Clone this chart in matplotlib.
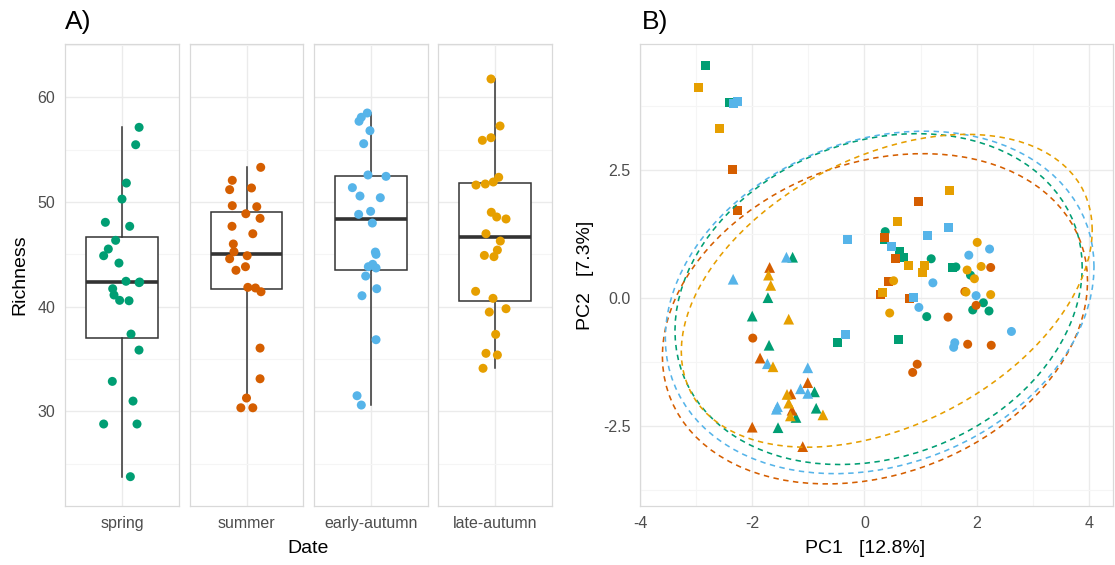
import numpy as np
import matplotlib
matplotlib.use("Agg")
import matplotlib.pyplot as plt

plt.rcParams["font.family"] = ["Liberation Sans", "DejaVu Sans"]
plt.rcParams["axes.unicode_minus"] = False

# ---------------- Richness per sampling date ----------------
seasons = ["spring", "summer", "early-autumn", "late-autumn"]
colors = ["#009E73", "#D55E00", "#56B4E9", "#E69F00"]

spring_rich = [57.13, 55.47, 51.81, 50.28, 48.06, 47.68, 46.34, 45.51, 44.87, 44.17, 42.43, 42.36,
               42.30, 41.72, 41.12, 40.61, 40.57, 37.39, 35.86, 32.87, 30.99, 28.80, 28.80, 23.77]
spring_jit = [0.18, 0.144, 0.046, 0.0, -0.175, 0.081, -0.067, -0.144, -0.193, -0.032, 0.042, 0.186,
              0.18, -0.098, -0.084, -0.025, 0.074, 0.095, 0.179, -0.102, 0.116, -0.193, 0.158, 0.088]

summer_rich = [53.31, 52.07, 51.34, 51.18, 49.65, 49.55, 48.88, 48.44, 47.68, 46.97, 45.99, 45.25,
               44.87, 44.58, 43.82, 43.48, 41.85, 41.79, 41.43, 36.05, 33.12, 31.28, 30.35, 30.35]
summer_jit = [0.151, -0.151, 0.053, -0.179, -0.151, 0.109, -0.007, 0.144, -0.154, 0.067, -0.14, -0.133,
              0.007, -0.179, -0.011, -0.112, 0.014, 0.095, 0.154, 0.144, 0.144, 0.0, -0.06, 0.067]

early_rich = [58.50, 58.09, 57.71, 56.81, 55.57, 52.58, 52.45, 51.37, 50.57, 50.41, 49.11, 48.82,
              47.99, 45.22, 45.00, 43.82, 44.05, 43.70, 42.93, 41.72, 41.05, 36.85, 31.50, 30.61]
early_jit = [-0.039, -0.102, -0.126, -0.011, -0.077, -0.032, 0.158, -0.196, -0.116, 0.098, -0.004, -0.13,
             0.014, 0.046, 0.053, -0.028, 0.018, 0.053, -0.056, 0.06, -0.095, 0.053, -0.147, -0.102]

late_rich = [61.75, 57.26, 56.14, 55.89, 52.36, 51.91, 51.72, 51.62, 49.02, 48.57, 48.38, 46.97,
             46.27, 45.41, 44.90, 44.78, 41.47, 40.80, 39.81, 39.49, 37.36, 35.55, 35.39, 34.12]
late_jit = [-0.042, 0.053, -0.042, -0.133, 0.039, -0.018, -0.102, -0.2, -0.039, 0.018, 0.116, -0.095,
            0.056, 0.025, -0.112, -0.011, -0.204, -0.021, 0.116, -0.06, 0.007, -0.095, 0.025, -0.126]

richness = [spring_rich, summer_rich, early_rich, late_rich]
jitter = [spring_jit, summer_jit, early_jit, late_jit]

# ---------------- PCA scores (PC1, PC2) by date and sample type ----------------
spring_sq = [(-2.84, 4.55), (-2.41, 3.83), (0.36, 1.14), (0.62, 0.92), (0.70, 0.79), (1.57, 0.59),
             (-0.48, -0.87), (0.60, -0.81)]
spring_ci = [(0.37, 1.30), (1.19, 0.77), (1.63, 0.61), (1.89, 0.45), (1.11, -0.36), (2.12, -0.09),
             (1.93, -0.23), (2.22, -0.25)]
spring_tr = [(-1.28, 0.80), (-1.72, 0.01), (-2.00, -0.35), (-1.70, -0.92), (-0.89, -1.83), (-1.22, -2.33),
             (-0.86, -2.15), (-1.54, -2.53)]

summer_sq = [(-2.35, 2.51), (-2.27, 1.72), (0.97, 1.88), (0.36, 1.19), (0.55, 0.77), (0.42, 0.32),
             (0.29, 0.07), (0.80, -0.01)]
summer_ci = [(1.49, -0.37), (0.94, -1.29), (0.86, -1.45), (2.25, 0.60), (1.79, 0.13), (1.99, -0.14),
             (1.84, -0.90), (2.26, -0.92), (-1.99, -0.78)]
summer_tr = [(-1.69, 0.60), (-1.86, -1.17), (-1.01, -1.65), (-1.31, -1.87), (-1.29, -2.19), (-2.00, -2.52),
             (-1.10, -2.90)]

early_sq = [(-2.34, 3.81), (-2.26, 3.85), (-0.31, 1.15), (1.49, 1.39), (1.12, 1.22), (0.49, 1.00),
            (0.88, 0.02), (-0.33, -0.70)]
early_ci = [(1.22, 0.30), (0.97, -0.18), (2.23, 0.96), (1.86, 0.84), (1.99, 0.05), (2.62, -0.65),
            (1.61, -0.87), (1.59, -0.96)]
early_tr = [(-1.39, 0.80), (-2.34, 0.37), (-1.73, -1.28), (-1.01, -1.36), (-1.14, -1.77), (-1.01, -1.86),
            (-1.55, -2.12), (-1.57, -2.17)]

late_sq = [(-2.95, 4.11), (-2.58, 3.32), (1.52, 2.10), (0.59, 1.50), (0.79, 0.64), (1.07, 0.63),
           (1.04, 0.51), (0.32, 0.12)]
late_ci = [(0.52, 0.34), (0.45, -0.29), (2.01, 1.09), (1.83, 0.55), (2.08, 0.62), (1.96, 0.38),
           (1.81, 0.12), (2.25, 0.07)]
late_tr = [(-1.71, 0.45), (-1.67, 0.25), (-1.35, -0.41), (-1.63, -1.34), (-1.38, -1.88), (-1.35, -2.05),
           (-1.32, -2.30), (-0.74, -2.28)]

pca_groups = [
    (spring_sq, spring_ci, spring_tr),
    (summer_sq, summer_ci, summer_tr),
    (early_sq, early_ci, early_tr),
    (late_sq, late_ci, late_tr),
]

# ---------------- styling ----------------
W, H = 1115, 565
grid_major = "#EBEBEB"
grid_minor = "#F5F5F5"
border = "#D9D9D9"
tick_col = "#4D4D4D"


def px_rect(x0, y0, x1, y1):
    return [x0 / W, 1 - y1 / H, (x1 - x0) / W, (y1 - y0) / H]


def style_axes(ax):
    for s in ax.spines.values():
        s.set_color(border)
        s.set_linewidth(0.9)
    ax.tick_params(which="both", length=0, colors=tick_col, labelsize=11.5, pad=7)
    ax.set_axisbelow(True)


def cov_trob(xy, nu=5, maxit=25, tol=0.01):
    # robust multivariate-t location/scatter (as used for stat_ellipse type "t")
    n, p = xy.shape
    wt = np.ones(n)
    loc = xy.mean(axis=0)
    w = np.sqrt(wt)
    X = xy - loc
    for _ in range(maxit):
        w0 = w
        X = xy - loc
        _, d, vt = np.linalg.svd(np.sqrt(w / w.sum())[:, None] * X, full_matrices=False)
        wX = X @ vt.T @ np.diag(1 / d)
        Q = (wX ** 2).sum(axis=1)
        w = wt * (nu + p) / (nu + Q)
        loc = (w[:, None] * xy).sum(axis=0) / w.sum()
        if np.all(np.abs(w - w0) < tol):
            break
    cov = (np.sqrt(w)[:, None] * X).T @ (np.sqrt(w)[:, None] * X) / wt.sum()
    return loc, cov


def ellipse_path(xy, level=0.95, segments=101):
    center, shape = cov_trob(xy)
    dfd = len(xy) - 1
    fq = dfd / 2 * ((1 - level) ** (-2 / dfd) - 1)   # qf(level, 2, dfd)
    radius = np.sqrt(2 * fq)
    ang = np.linspace(0, 2 * np.pi, segments)
    circle = np.column_stack([np.cos(ang), np.sin(ang)])
    L = np.linalg.cholesky(shape)
    return center + radius * (circle @ L.T)


fig = plt.figure(figsize=(W / 100, H / 100), dpi=100)

# ---------------- A) boxplots faceted by date ----------------
facet_px = [(65, 179), (190, 303), (314, 428), (438, 552)]
y_top, y_bot = 44.3, 506
for i, (x0, x1) in enumerate(facet_px):
    ax = fig.add_axes(px_rect(x0, y_top, x1, y_bot))
    style_axes(ax)
    vals = np.array(richness[i])
    ax.boxplot(vals, positions=[1], widths=0.75, whis=1.5, showfliers=False,
               patch_artist=True, showcaps=False,
               boxprops=dict(facecolor="white", edgecolor="#333333", linewidth=1.1),
               whiskerprops=dict(color="#333333", linewidth=1.1),
               medianprops=dict(color="#333333", linewidth=2.6),
               zorder=2)
    ax.scatter(1 + np.array(jitter[i]), vals, s=42, color=colors[i], edgecolors="none", zorder=3)
    ax.set_xlim(0.4, 1.6)
    ax.set_ylim(20.97, 65.06)
    ax.set_xticks([1])
    ax.set_xticklabels([seasons[i]])
    ax.set_yticks([30, 40, 50, 60])
    ax.set_yticks([25, 35, 45, 55, 65], minor=True)
    ax.grid(which="major", color=grid_major, linewidth=1.0)
    ax.grid(which="minor", axis="y", color=grid_minor, linewidth=0.8)
    if i > 0:
        ax.set_yticklabels([])

fig.text(65 / W, 1 - 29.3 / H, "A)", fontsize=19, ha="left", va="baseline")
fig.text(308.5 / W, 1 - 553 / H, "Date", fontsize=14, ha="center", va="baseline")
fig.text(20 / W, 0.5 + (565 / 2 - 275) / H, "Richness", fontsize=14, rotation=90,
         ha="center", va="center")

# ---------------- B) PCA with ellipses per date ----------------
axb = fig.add_axes(px_rect(640, y_top, 1113, y_bot))
style_axes(axb)
markers = [("s", 42), ("o", 42), ("^", 60)]
for i, groups in enumerate(pca_groups):
    for pts, (mk, size) in zip(groups, markers):
        arr = np.array(pts)
        axb.scatter(arr[:, 0], arr[:, 1], marker=mk, s=size, color=colors[i],
                    edgecolors="none", zorder=3)
for i, groups in enumerate(pca_groups):
    allpts = np.vstack([np.array(g) for g in groups])
    ell = ellipse_path(allpts)
    axb.plot(ell[:, 0], ell[:, 1], color=colors[i], linewidth=1.15,
             linestyle=(0, (3.4, 2.8)), zorder=4)

axb.set_xlim(-3.99, 4.43)
axb.set_ylim(-4.06, 4.96)
axb.set_xticks([-4, -2, 0, 2, 4])
axb.set_xticklabels(["-4", "-2", "0", "2", "4"])
axb.set_xticks([-3, -1, 1, 3], minor=True)
axb.set_yticks([-2.5, 0, 2.5])
axb.set_yticklabels(["-2.5", "0.0", "2.5"])
axb.set_yticks([-3.75, -1.25, 1.25, 3.75], minor=True)
axb.grid(which="major", color=grid_major, linewidth=1.0)
axb.grid(which="minor", color=grid_minor, linewidth=0.8)

fig.text(642 / W, 1 - 29.3 / H, "B)", fontsize=19, ha="left", va="baseline")
fig.text(865 / W, 1 - 553 / H, "PC1   [12.8%]", fontsize=14, ha="center", va="baseline")
fig.text(585 / W, 0.5 + (565 / 2 - 275) / H, "PC2   [7.3%]", fontsize=14, rotation=90,
         ha="center", va="center")

fig.savefig("out.png", dpi=100, facecolor="white")
